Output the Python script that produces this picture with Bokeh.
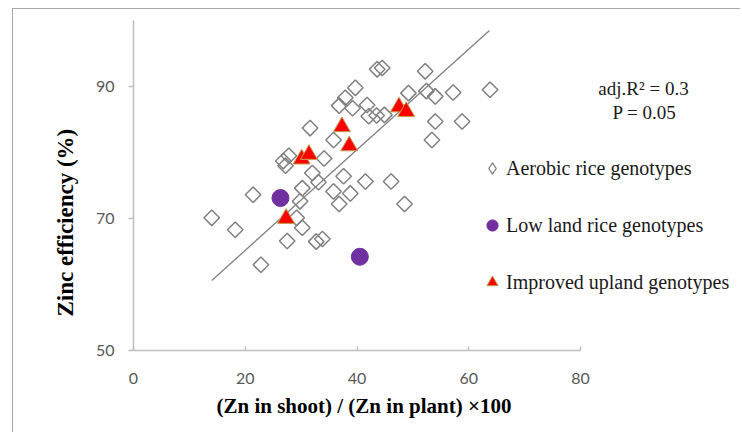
import math
from bokeh.plotting import figure
from bokeh.models import Legend, LegendItem, Label, FixedTicker, Range1d, Title
from bokeh.embed import file_html
from bokeh.resources import INLINE

# ---- data ----
aero_x = [14.0, 18.2, 21.4, 22.8, 27.5, 26.8, 27.8, 27.2, 29.2, 29.8, 30.2, 30.2,
          31.6, 32.0, 32.7, 33.8, 34.1, 33.1, 35.8, 35.8, 36.8, 36.8, 37.6, 37.9,
          38.8, 39.2, 39.7, 41.5, 41.8, 42.1, 43.5, 43.6, 44.5, 44.9, 46.1, 48.5,
          49.2, 52.2, 52.4, 54.0, 54.0, 53.4, 57.2, 58.8, 63.8]
aero_y = [70.1, 68.3, 73.6, 63.0, 66.6, 78.7, 79.5, 78.0, 70.1, 72.6, 74.6, 68.6,
          83.7, 76.9, 66.5, 66.9, 79.1, 75.5, 81.9, 74.1, 87.1, 72.2, 76.4, 88.3,
          73.8, 86.7, 89.8, 75.6, 87.2, 85.5, 85.6, 92.6, 92.8, 85.7, 75.6, 72.2,
          89.0, 92.3, 89.3, 88.5, 84.7, 81.9, 89.1, 84.7, 89.5]
low_x = [26.3, 40.5]
low_y = [73.1, 64.2]
up_x = [27.3, 30.1, 31.4, 37.3, 38.6, 47.5, 48.8]
up_y = [70.0, 79.0, 79.7, 83.9, 81.0, 86.9, 86.2]
trend_x = [14.0, 63.7]
trend_y = [60.6, 98.5]
x_ticks = [0, 20, 40, 60, 80]
y_ticks = [50, 70, 90]
x_axis_span = (0, 80)
y_axis_span = (50, 100)
series_names = ["Aerobic rice genotypes", "Low land rice genotypes", "Improved upland genotypes"]
stats_lines = ["adj.R\u00b2 = 0.3", "P = 0.05"]
x_title = "(Zn in shoot) / (Zn in plant) \u00d7100"
y_title = "Zinc efficiency  (%)"

SERIF = "Liberation Serif"
TICKFONT = "Lato"
AXIS_GRAY = "#bfbfbf"

# the frame runs on to the right edge so that legend and statistics are not clipped;
# the axis itself is bounded to 0..80
p = figure(width=728, height=424,
           x_range=Range1d(0, 108.8), y_range=Range1d(*y_axis_span),
           output_backend="svg", toolbar_location=None,
           min_border_left=120, min_border_right=0,
           min_border_top=11, min_border_bottom=83)
p.styles = {"margin-left": "12px", "margin-top": "8px",
            "border-left": "1.5px solid #a6a6a6",
            "border-top": "1.5px solid #a6a6a6"}
p.outline_line_color = None
p.xgrid.visible = False
p.ygrid.visible = False
p.background_fill_color = "white"
p.border_fill_color = "white"

# axes
p.xaxis.ticker = FixedTicker(ticks=x_ticks)
p.yaxis.ticker = FixedTicker(ticks=y_ticks)
p.xaxis.bounds = x_axis_span
p.yaxis.bounds = y_axis_span
for ax in (p.xaxis[0], p.yaxis[0]):
    ax.axis_line_color = AXIS_GRAY
    ax.axis_line_width = 1.5
    ax.major_tick_line_color = AXIS_GRAY
    ax.major_tick_line_width = 1.5
    ax.minor_tick_line_color = None
    ax.major_label_text_font = TICKFONT
    ax.major_label_text_font_size = "16px"
    ax.major_label_text_color = "#595959"
p.xaxis.major_tick_in = 4
p.xaxis.major_tick_out = 0
p.xaxis.major_label_standoff = 22
p.yaxis.major_tick_in = 0
p.yaxis.major_tick_out = 5
p.yaxis.major_label_standoff = 14

# axis titles (placed as side titles so they can be centred on the bounded axes)
p.add_layout(Title(text=x_title, align="left", offset=83, standoff=11,
                   text_font=SERIF, text_font_style="bold", text_font_size="21px",
                   text_color="#000000"), "below")
p.add_layout(Title(text=y_title, align="left", offset=34, standoff=30,
                   text_font=SERIF, text_font_style="bold", text_font_size="23px",
                   text_color="#000000"), "left")

# trend line
p.line(trend_x, trend_y, line_color="#808080", line_width=1.3)

# series
r_aero = p.scatter(aero_x, aero_y, marker="square", size=11, angle=math.pi / 4,
                   fill_alpha=0, line_color="#808080", line_width=1.5)
r_low = p.scatter(low_x, low_y, marker="circle", size=17,
                  fill_color="#7030a0", line_color="#7030a0", line_width=1)
r_up = p.scatter(up_x, up_y, marker="triangle", size=17,
                 fill_color="#ff0000", line_color="#c0a050", line_width=1)
# legend key for the diamond symbol (not drawn on the plot)
r_aero_key = p.scatter(aero_x, aero_y, marker="diamond", size=11,
                       fill_alpha=0, line_color="#808080", line_width=1.3,
                       visible=False)

legend = Legend(items=[LegendItem(label=series_names[0], renderers=[r_aero_key]),
                       LegendItem(label=series_names[1], renderers=[r_low]),
                       LegendItem(label=series_names[2], renderers=[r_up])],
                location=(345, 52))
legend.background_fill_alpha = 0
legend.border_line_color = None
legend.padding = 0
legend.margin = 0
legend.glyph_width = 28
legend.glyph_height = 32
legend.spacing = 25
legend.label_standoff = 0
legend.label_text_font = SERIF
legend.label_text_font_size = "20px"
legend.label_text_color = "#1a1a1a"
legend.inactive_fill_alpha = 0
p.add_layout(legend, "center")

# statistics text
p.add_layout(Label(x=510, y=262, x_units="screen", y_units="screen", text=stats_lines[0],
                   text_font=SERIF, text_font_size="19px", text_align="center",
                   text_baseline="middle", text_color="#1a1a1a"))
p.add_layout(Label(x=511, y=238, x_units="screen", y_units="screen", text=stats_lines[1],
                   text_font=SERIF, text_font_size="19px", text_align="center",
                   text_baseline="middle", text_color="#1a1a1a"))

open("out.html", "w").write(file_html(p, INLINE))
